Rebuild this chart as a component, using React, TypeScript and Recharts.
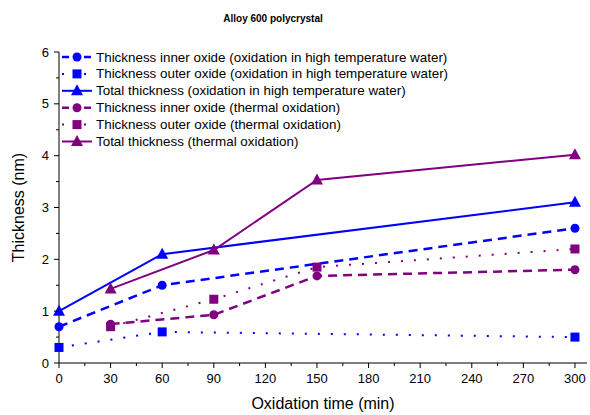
import { LineChart, Line, XAxis, YAxis, Label } from 'recharts';

const BLUE = '#0000FF';
const PURPLE = '#800080';

// oxidation time (min)
const waterTimes = [0, 60, 300];
const thermalTimes = [30, 90, 150, 300];

// thickness (nm)
const waterInner = [0.7, 1.5, 2.6];
const waterOuter = [0.3, 0.6, 0.5];
const waterTotal = [1.0, 2.1, 3.1];
const thermalInner = [0.75, 0.93, 1.68, 1.8];
const thermalOuter = [0.7, 1.23, 1.85, 2.2];
const thermalTotal = [1.43, 2.18, 3.53, 4.02];

const xTicks = [0, 15, 30, 45, 60, 75, 90, 105, 120, 135, 150, 165, 180, 195, 210, 225, 240, 255, 270, 285, 300];
const yTicks = [0, 0.5, 1, 1.5, 2, 2.5, 3, 3.5, 4, 4.5, 5, 5.5, 6];

const toRows = (xs: number[], ys: number[]) => xs.map((t, i) => ({ t, v: ys[i] }));

type Shape = 'circle' | 'square' | 'triangle';

const marker = (shape: Shape, color: string, cx: number, cy: number, key?: string) => {
  if (shape === 'circle') return <circle key={key} cx={cx} cy={cy} r={4.5} fill={color} />;
  if (shape === 'square') return <rect key={key} x={cx - 4.5} y={cy - 4.5} width={9} height={9} fill={color} />;
  return (
    <polygon
      key={key}
      points={`${cx},${cy - 6.5} ${cx - 6},${cy + 4.5} ${cx + 6},${cy + 4.5}`}
      fill={color}
    />
  );
};

const dotFn = (shape: Shape, color: string) => (p: any) =>
  marker(shape, color, p.cx, p.cy, `d-${shape}-${color}-${p.index}`);

const series = [
  { name: 'Thickness inner oxide (oxidation in high temperature water)', xs: waterTimes, ys: waterInner, color: BLUE, shape: 'circle' as Shape, dash: '9 6', width: 2.5 },
  { name: 'Thickness outer oxide (oxidation in high temperature water)', xs: waterTimes, ys: waterOuter, color: BLUE, shape: 'square' as Shape, dash: '2 11', width: 2 },
  { name: 'Total thickness (oxidation in high temperature water)', xs: waterTimes, ys: waterTotal, color: BLUE, shape: 'triangle' as Shape, dash: undefined, width: 2 },
  { name: 'Thickness inner oxide (thermal oxidation)', xs: thermalTimes, ys: thermalInner, color: PURPLE, shape: 'circle' as Shape, dash: '9 6', width: 2.5 },
  { name: 'Thickness outer oxide (thermal oxidation)', xs: thermalTimes, ys: thermalOuter, color: PURPLE, shape: 'square' as Shape, dash: '2 11', width: 2 },
  { name: 'Total thickness (thermal oxidation)', xs: thermalTimes, ys: thermalTotal, color: PURPLE, shape: 'triangle' as Shape, dash: undefined, width: 2 },
];

const font = 'Liberation Sans, Arial, sans-serif';

const XTick = (props: any) => {
  const { x, y, payload } = props;
  const major = payload.value % 30 === 0;
  return (
    <g>
      <line x1={x} x2={x} y1={y} y2={y + (major ? 5 : 3)} stroke="#000" strokeWidth={1} />
      {major && (
        <text x={x} y={y + 20} textAnchor="middle" fontSize={13} fontFamily={font} fill="#000">
          {payload.value}
        </text>
      )}
    </g>
  );
};

const YTick = (props: any) => {
  const { x, y, payload } = props;
  const major = payload.value % 1 === 0;
  return (
    <g>
      <line x1={x} x2={x - (major ? 5 : 3)} y1={y} y2={y} stroke="#000" strokeWidth={1} />
      {major && (
        <text x={x - 10} y={y + 4.5} textAnchor="end" fontSize={13} fontFamily={font} fill="#000">
          {payload.value}
        </text>
      )}
    </g>
  );
};

export default function App() {
  return (
    <div style={{ position: 'absolute', left: 0, top: 0, width: 590, height: 415, background: '#fff' }}>
      <LineChart width={590} height={415} margin={{ top: 52, right: 3, bottom: 0, left: 0 }}>
        <XAxis
          dataKey="t"
          type="number"
          domain={[0, 307]}
          ticks={xTicks}
          interval={0}
          allowDuplicatedCategory={false}
          height={52}
          tickLine={false}
          tickSize={0}
          tickMargin={0}
          tick={<XTick />}
          axisLine={{ stroke: '#000', strokeWidth: 1 }}
        >
          <Label value="Oxidation time (min)" position="insideBottom" offset={6} style={{ fontSize: 16, fontFamily: font, fill: '#000' }} />
        </XAxis>
        <YAxis
          dataKey="v"
          type="number"
          domain={[0, 6]}
          ticks={yTicks}
          interval={0}
          width={59}
          tickLine={false}
          tickSize={0}
          tickMargin={0}
          tick={<YTick />}
          axisLine={{ stroke: '#000', strokeWidth: 1 }}
        >
          <Label value="Thickness (nm)" angle={-90} position="insideLeft" offset={18} style={{ fontSize: 16, fontFamily: font, fill: '#000', textAnchor: 'middle' }} />
        </YAxis>
        {series.map((s) => (
          <Line
            key={s.name}
            data={toRows(s.xs, s.ys)}
            dataKey="v"
            type="linear"
            stroke={s.color}
            strokeWidth={s.width}
            strokeDasharray={s.dash}
            dot={dotFn(s.shape, s.color)}
            activeDot={false}
            isAnimationActive={false}
          />
        ))}
      </LineChart>
      <svg width={590} height={415} style={{ position: 'absolute', left: 0, top: 0, pointerEvents: 'none' }}>
        <text x={273} y={22} textAnchor="middle" fontSize={10} fontWeight="bold" fontFamily={font} fill="#000">
          Alloy 600 polycrystal
        </text>
        {series.map((s, i) => {
          const cy = 57 + i * 16.9;
          return (
            <g key={s.name}>
              <line x1={62} x2={92} y1={cy} y2={cy} stroke={s.color} strokeWidth={s.width} strokeDasharray={s.dash === '9 6' ? '7 4' : s.dash === '2 11' ? '2 9' : undefined} />
              {marker(s.shape, s.color, 77, cy)}
              <text x={96} y={cy + 4.5} fontSize={13.4} fontFamily={font} fill="#000">
                {s.name}
              </text>
            </g>
          );
        })}
      </svg>
    </div>
  );
}
